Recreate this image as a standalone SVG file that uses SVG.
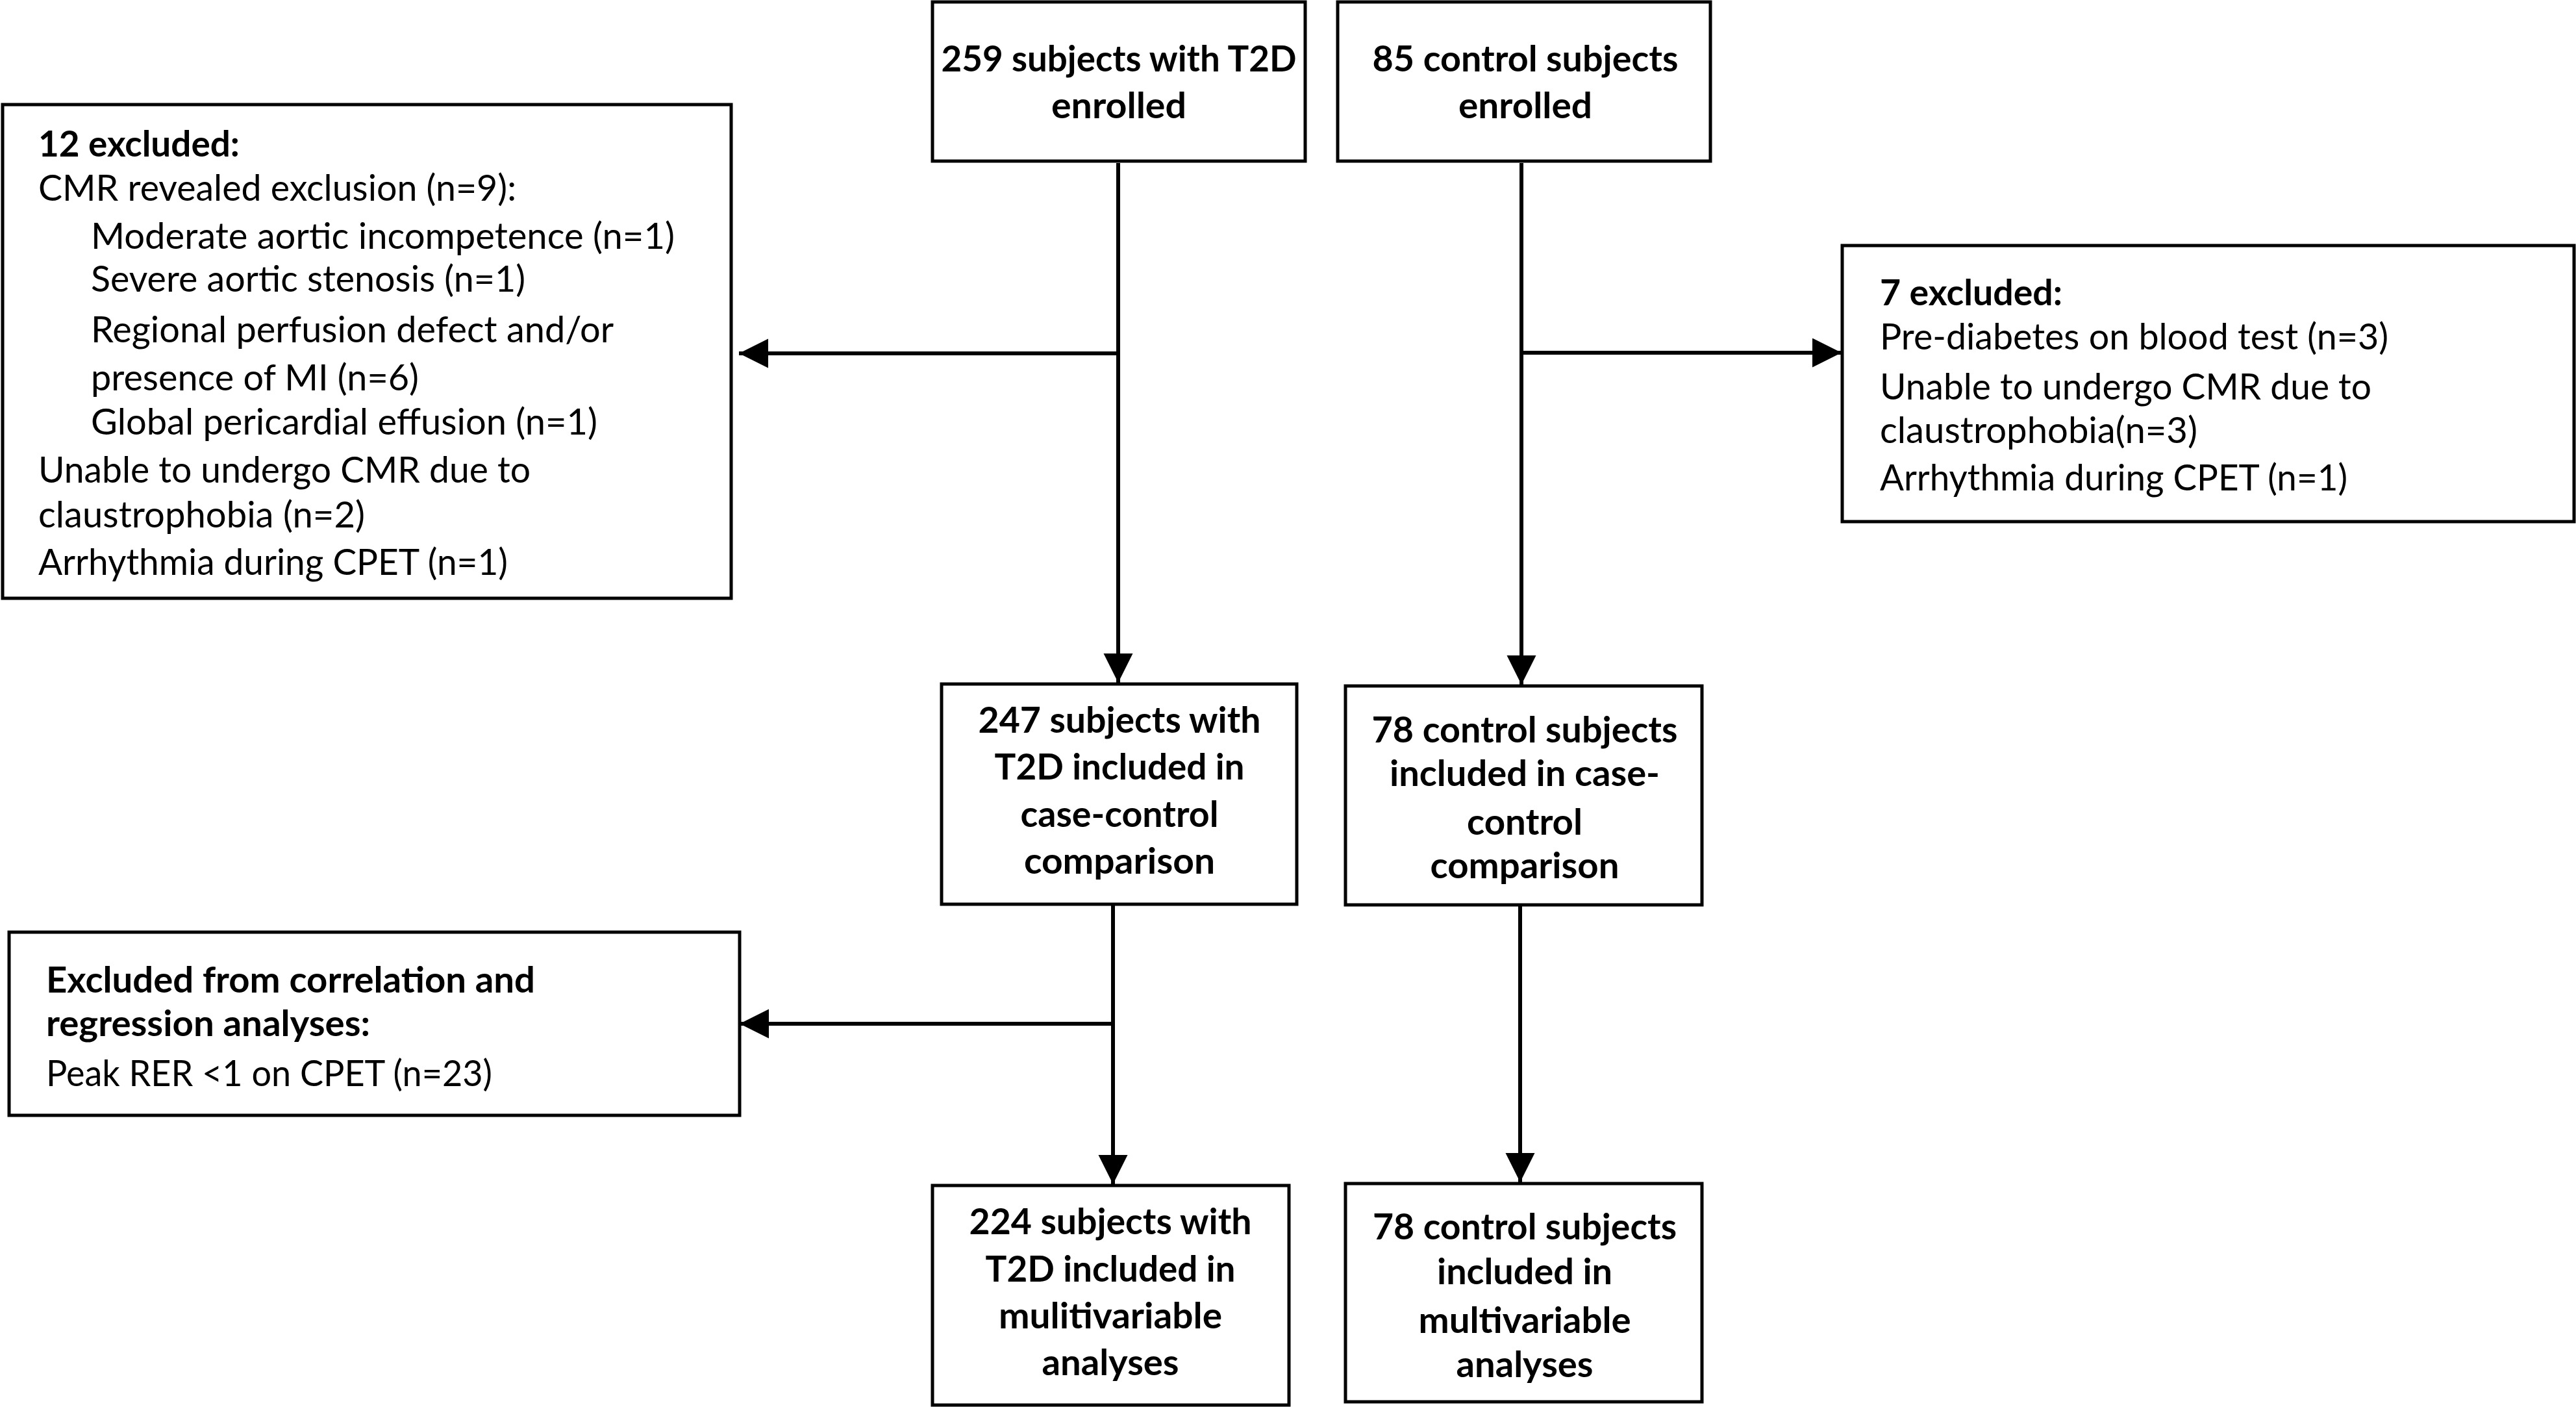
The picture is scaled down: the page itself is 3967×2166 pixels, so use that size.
<svg xmlns="http://www.w3.org/2000/svg" width="3967" height="2166" viewBox="0 0 3967 2166">
<style>
.box{fill:#fff;stroke:#000;stroke-width:5}
.t{font-family:Lato,"Open Sans","Liberation Sans",sans-serif;font-size:56px;fill:#000}
.b{font-weight:bold}
.c{text-anchor:middle}
.ln{fill:none;stroke:#000;stroke-width:6}
</style>
<defs>
<marker id="ah" markerUnits="userSpaceOnUse" markerWidth="46" markerHeight="46" refX="45" refY="22.5" orient="auto" viewBox="0 0 46 46">
<path d="M0,0 L45,22.5 L0,45 Z" fill="#000"/>
</marker>
</defs>
<rect width="3967" height="2166" fill="#fff"/>
<g id="connectors">
<path class="ln" d="M1722,251 L1722,1051" marker-end="url(#ah)"/>
<path class="ln" d="M1722,544 L1138,544" marker-end="url(#ah)"/>
<path class="ln" d="M2343,251 L2343,1054" marker-end="url(#ah)"/>
<path class="ln" d="M2343,543 L2836,543" marker-end="url(#ah)"/>
<path class="ln" d="M1714,1392 L1714,1823" marker-end="url(#ah)"/>
<path class="ln" d="M1714,1576 L1139,1576" marker-end="url(#ah)"/>
<path class="ln" d="M2341,1393 L2341,1820" marker-end="url(#ah)"/>
</g>
<g id="n_t2d_enrolled">
<rect class="box" x="1436" y="3" width="574" height="245"/>
<text class="t b c" x="1723" y="110" textLength="547" lengthAdjust="spacingAndGlyphs">259 subjects with T2D</text>
<text class="t b c" x="1723" y="182" textLength="208" lengthAdjust="spacingAndGlyphs">enrolled</text>
</g>
<g id="n_ctrl_enrolled">
<rect class="box" x="2060" y="3" width="574" height="245"/>
<text class="t b c" x="2349" y="110" textLength="471" lengthAdjust="spacingAndGlyphs">85 control subjects</text>
<text class="t b c" x="2349" y="182" textLength="206" lengthAdjust="spacingAndGlyphs">enrolled</text>
</g>
<g id="n_excl12">
<rect class="box" x="4" y="161" width="1122" height="760"/>
<text class="t b" x="59" y="241" textLength="310" lengthAdjust="spacingAndGlyphs">12 excluded:</text>
<text class="t" x="59" y="309" textLength="736" lengthAdjust="spacingAndGlyphs">CMR revealed exclusion (n=9):</text>
<text class="t" x="140" y="383" textLength="899" lengthAdjust="spacingAndGlyphs">Moderate aortic incompetence (n=1)</text>
<text class="t" x="140" y="449" textLength="669" lengthAdjust="spacingAndGlyphs">Severe aortic stenosis (n=1)</text>
<text class="t" x="140" y="527" textLength="805" lengthAdjust="spacingAndGlyphs">Regional perfusion defect and/or</text>
<text class="t" x="140" y="601" textLength="505" lengthAdjust="spacingAndGlyphs">presence of MI (n=6)</text>
<text class="t" x="140" y="669" textLength="780" lengthAdjust="spacingAndGlyphs">Global pericardial effusion (n=1)</text>
<text class="t" x="59" y="743" textLength="758" lengthAdjust="spacingAndGlyphs">Unable to undergo CMR due to</text>
<text class="t" x="59" y="812" textLength="503" lengthAdjust="spacingAndGlyphs">claustrophobia (n=2)</text>
<text class="t" x="59" y="885" textLength="723" lengthAdjust="spacingAndGlyphs">Arrhythmia during CPET (n=1)</text>
</g>
<g id="n_excl7">
<rect class="box" x="2837" y="378" width="1127" height="425"/>
<text class="t b" x="2895" y="470" textLength="281" lengthAdjust="spacingAndGlyphs">7 excluded:</text>
<text class="t" x="2895" y="538" textLength="783" lengthAdjust="spacingAndGlyphs">Pre-diabetes on blood test (n=3)</text>
<text class="t" x="2895" y="615" textLength="757" lengthAdjust="spacingAndGlyphs">Unable to undergo CMR due to</text>
<text class="t" x="2895" y="682" textLength="489" lengthAdjust="spacingAndGlyphs">claustrophobia(n=3)</text>
<text class="t" x="2895" y="755" textLength="720" lengthAdjust="spacingAndGlyphs">Arrhythmia during CPET (n=1)</text>
</g>
<g id="n_t2d_case">
<rect class="box" x="1450" y="1053" width="547" height="339"/>
<text class="t b c" x="1724" y="1128" textLength="435" lengthAdjust="spacingAndGlyphs">247 subjects with</text>
<text class="t b c" x="1724" y="1200" textLength="385" lengthAdjust="spacingAndGlyphs">T2D included in</text>
<text class="t b c" x="1724" y="1273" textLength="305" lengthAdjust="spacingAndGlyphs">case-control</text>
<text class="t b c" x="1724" y="1345" textLength="294" lengthAdjust="spacingAndGlyphs">comparison</text>
</g>
<g id="n_ctrl_case">
<rect class="box" x="2072" y="1056" width="549" height="337"/>
<text class="t b c" x="2348" y="1143" textLength="471" lengthAdjust="spacingAndGlyphs">78 control subjects</text>
<text class="t b c" x="2348" y="1210" textLength="416" lengthAdjust="spacingAndGlyphs">included in case-</text>
<text class="t b c" x="2348" y="1285" textLength="178" lengthAdjust="spacingAndGlyphs">control</text>
<text class="t b c" x="2348" y="1352" textLength="291" lengthAdjust="spacingAndGlyphs">comparison</text>
</g>
<g id="n_excl_corr">
<rect class="box" x="14" y="1435" width="1125" height="282"/>
<text class="t b" x="71" y="1528" textLength="753" lengthAdjust="spacingAndGlyphs">Excluded from correlation and</text>
<text class="t b" x="71" y="1595" textLength="499" lengthAdjust="spacingAndGlyphs">regression analyses:</text>
<text class="t" x="71" y="1672" textLength="687" lengthAdjust="spacingAndGlyphs">Peak RER &lt;1 on CPET (n=23)</text>
</g>
<g id="n_t2d_multi">
<rect class="box" x="1436" y="1825" width="549" height="338"/>
<text class="t b c" x="1710" y="1900" textLength="435" lengthAdjust="spacingAndGlyphs">224 subjects with</text>
<text class="t b c" x="1710" y="1973" textLength="385" lengthAdjust="spacingAndGlyphs">T2D included in</text>
<text class="t b c" x="1710" y="2045" textLength="344" lengthAdjust="spacingAndGlyphs">mulitivariable</text>
<text class="t b c" x="1710" y="2117" textLength="211" lengthAdjust="spacingAndGlyphs">analyses</text>
</g>
<g id="n_ctrl_multi">
<rect class="box" x="2072" y="1822" width="549" height="336"/>
<text class="t b c" x="2348" y="1908" textLength="468" lengthAdjust="spacingAndGlyphs">78 control subjects</text>
<text class="t b c" x="2348" y="1977" textLength="270" lengthAdjust="spacingAndGlyphs">included in</text>
<text class="t b c" x="2348" y="2052" textLength="327" lengthAdjust="spacingAndGlyphs">multivariable</text>
<text class="t b c" x="2348" y="2120" textLength="211" lengthAdjust="spacingAndGlyphs">analyses</text>
</g>
</svg>
